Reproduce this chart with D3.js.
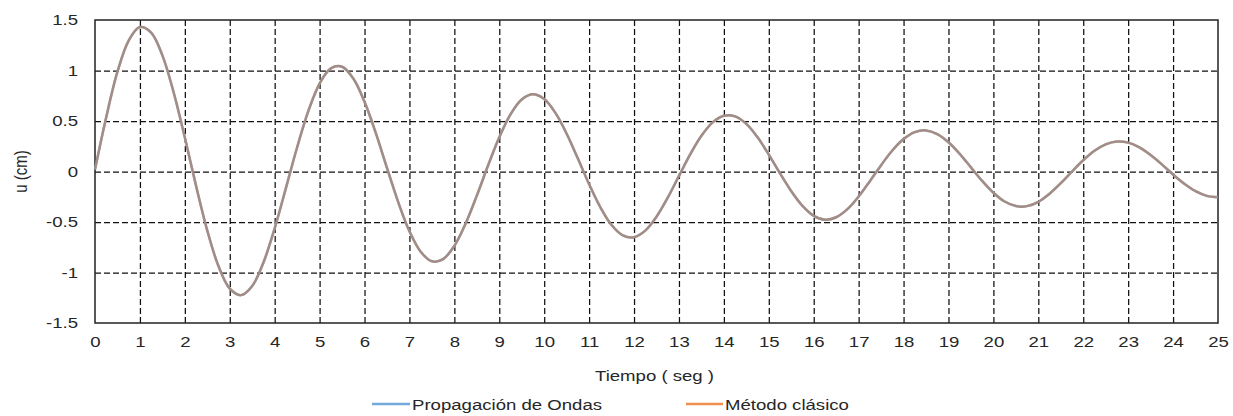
<!DOCTYPE html>
<html>
<head>
<meta charset="utf-8">
<script src="https://cdn.jsdelivr.net/npm/d3@7"></script>
<style>
  html, body { margin: 0; padding: 0; background: #fff; }
  svg { display: block; }
  text { font-family: "Liberation Sans", Arial, sans-serif; fill: #262626; }
</style>
</head>
<body>
<svg id="chart" width="1233" height="416"></svg>
<script>
// Time samples (s)
const tiempo = [
  0, 0.25, 0.5, 0.75, 1, 1.25, 1.5, 1.75, 2, 2.25,
  2.5, 2.75, 3, 3.25, 3.5, 3.75, 4, 4.25, 4.5, 4.75,
  5, 5.25, 5.5, 5.75, 6, 6.25, 6.5, 6.75, 7, 7.25,
  7.5, 7.75, 8, 8.25, 8.5, 8.75, 9, 9.25, 9.5, 9.75,
  10, 10.25, 10.5, 10.75, 11, 11.25, 11.5, 11.75, 12, 12.25,
  12.5, 12.75, 13, 13.25, 13.5, 13.75, 14, 14.25, 14.5, 14.75,
  15, 15.25, 15.5, 15.75, 16, 16.25, 16.5, 16.75, 17, 17.25,
  17.5, 17.75, 18, 18.25, 18.5, 18.75, 19, 19.25, 19.5, 19.75,
  20, 20.25, 20.5, 20.75, 21, 21.25, 21.5, 21.75, 22, 22.25,
  22.5, 22.75, 23, 23.25, 23.5, 23.75, 24, 24.25, 24.5, 24.75,
  25
];

// Displacement u (cm) — wave propagation solution
const propagacionOndas = [
  0.020, 0.538, 0.988, 1.297, 1.430, 1.376, 1.150, 0.785, 0.336, -0.142,
  -0.585, -0.939, -1.160, -1.224, -1.133, -0.901, -0.562, -0.164, 0.240, 0.600,
  0.871, 1.021, 1.037, 0.920, 0.690, 0.382, 0.035, -0.303, -0.592, -0.794,
  -0.889, -0.867, -0.736, -0.516, -0.239, 0.059, 0.339, 0.566, 0.713, 0.764,
  0.717, 0.580, 0.374, 0.128, -0.126, -0.354, -0.530, -0.632, -0.650, -0.585,
  -0.448, -0.259, -0.044, 0.169, 0.353, 0.486, 0.552, 0.546, 0.471, 0.338,
  0.167, -0.019, -0.195, -0.341, -0.439, -0.477, -0.453, -0.373, -0.248, -0.096,
  0.063, 0.208, 0.321, 0.390, 0.407, 0.371, 0.290, 0.175, 0.041, -0.093,
  -0.210, -0.297, -0.342, -0.343, -0.300, -0.220, -0.116, 0.000, 0.111, 0.205,
  0.269, 0.297, 0.286, 0.239, 0.163, 0.070, -0.030, -0.121, -0.195, -0.241,
  -0.254
];

// Displacement u (cm) — classical method solution
const metodoClasico = [
  0.020, 0.538, 0.988, 1.297, 1.430, 1.376, 1.150, 0.785, 0.336, -0.142,
  -0.585, -0.939, -1.160, -1.224, -1.133, -0.901, -0.562, -0.164, 0.240, 0.600,
  0.871, 1.021, 1.037, 0.920, 0.690, 0.382, 0.035, -0.303, -0.592, -0.794,
  -0.889, -0.867, -0.736, -0.516, -0.239, 0.059, 0.339, 0.566, 0.713, 0.764,
  0.717, 0.580, 0.374, 0.128, -0.126, -0.354, -0.530, -0.632, -0.650, -0.585,
  -0.448, -0.259, -0.044, 0.169, 0.353, 0.486, 0.552, 0.546, 0.471, 0.338,
  0.167, -0.019, -0.195, -0.341, -0.439, -0.477, -0.453, -0.373, -0.248, -0.096,
  0.063, 0.208, 0.321, 0.390, 0.407, 0.371, 0.290, 0.175, 0.041, -0.093,
  -0.210, -0.297, -0.342, -0.343, -0.300, -0.220, -0.116, 0.000, 0.111, 0.205,
  0.269, 0.297, 0.286, 0.239, 0.163, 0.070, -0.030, -0.121, -0.195, -0.241,
  -0.254
];

const xTicks = [0,1,2,3,4,5,6,7,8,9,10,11,12,13,14,15,16,17,18,19,20,21,22,23,24,25];
const yTicks = [-1.5, -1, -0.5, 0, 0.5, 1, 1.5];
const yTickLabels = ["-1.5", "-1", "-0.5", "0", "0.5", "1", "1.5"];

const seriesNames = ["Propagación de Ondas", "Método clásico"];
const seriesColors = ["#5b9bd5", "#ed7d31"];

// ---- layout ----
const margin = { left: 95, top: 20, right: 15, bottom: 93 };
const W = 1233, H = 416;
const iw = W - margin.left - margin.right;
const ih = H - margin.top - margin.bottom;
const SX = 1.24;         // horizontal text stretch
const FS = 15;

const svg = d3.select("#chart");
const g = svg.append("g").attr("transform", `translate(${margin.left},${margin.top})`);

const x = d3.scaleLinear().domain([0, 25]).range([0, iw]);
const y = d3.scaleLinear().domain([-1.5, 1.5]).range([ih, 0]);

// dashed grid
const gridX = g.append("g").attr("transform", `translate(0,${ih})`)
  .call(d3.axisBottom(x).tickValues(xTicks.slice(1, -1)).tickSize(-ih).tickFormat(""));
const gridY = g.append("g")
  .call(d3.axisLeft(y).tickValues(yTicks.slice(1, -1)).tickSize(-iw).tickFormat(""));
[gridX, gridY].forEach(a => {
  a.select(".domain").remove();
  a.selectAll("line").attr("stroke", "#111").attr("stroke-width", 1.25).attr("stroke-dasharray", "6,3");
});

// plot frame
g.append("rect").attr("x", 0).attr("y", 0).attr("width", iw).attr("height", ih)
  .attr("fill", "none").attr("stroke", "#222").attr("stroke-width", 1.5);

// series
const line = d3.line().x((d, i) => x(tiempo[i])).y(d => y(d)).curve(d3.curveCatmullRom);
g.append("path").datum(propagacionOndas).attr("d", line)
  .attr("fill", "none").attr("stroke", seriesColors[0]).attr("stroke-width", 2.5);
g.append("path").datum(metodoClasico).attr("d", line)
  .attr("fill", "none").attr("stroke", seriesColors[1]).attr("stroke-width", 2.5).attr("stroke-opacity", 0.5);

// tick labels
const ax = g.append("g").attr("transform", `translate(0,${ih})`)
  .call(d3.axisBottom(x).tickValues(xTicks).tickSize(0).tickPadding(13).tickFormat(d => String(d)));
const ay = g.append("g")
  .call(d3.axisLeft(y).tickValues(yTicks).tickSize(0).tickPadding(17 / SX)
    .tickFormat((d, i) => yTickLabels[i]));
[ax, ay].forEach(a => {
  a.select(".domain").remove();
  a.selectAll("text").attr("font-size", FS).attr("font-family", null).attr("fill", "#262626")
    .attr("transform", `scale(${SX},1)`);
});

// axis titles
svg.append("text")
  .attr("transform", `translate(${margin.left + iw / 2 - 2},${ih + margin.top + 58}) scale(${SX},1)`)
  .attr("text-anchor", "middle").attr("font-size", FS).text("Tiempo ( seg )");
svg.append("text")
  .attr("transform", `translate(27,${margin.top + ih / 2}) scale(${SX},1) rotate(-90)`)
  .attr("text-anchor", "middle").attr("font-size", FS).text("u (cm)");

// legend
const legendItems = [
  { x1: 372, x2: 410, tx: 412 },
  { x1: 686, x2: 723, tx: 725 }
];
const ly = 404;
legendItems.forEach((it, i) => {
  svg.append("line").attr("x1", it.x1).attr("x2", it.x2).attr("y1", ly).attr("y2", ly)
    .attr("stroke", seriesColors[i]).attr("stroke-width", 2.5).attr("stroke-opacity", 0.85);
  svg.append("text").attr("transform", `translate(${it.tx},${ly + 5.5}) scale(${SX},1)`)
    .attr("font-size", FS).text(seriesNames[i]);
});
</script>
</body>
</html>
